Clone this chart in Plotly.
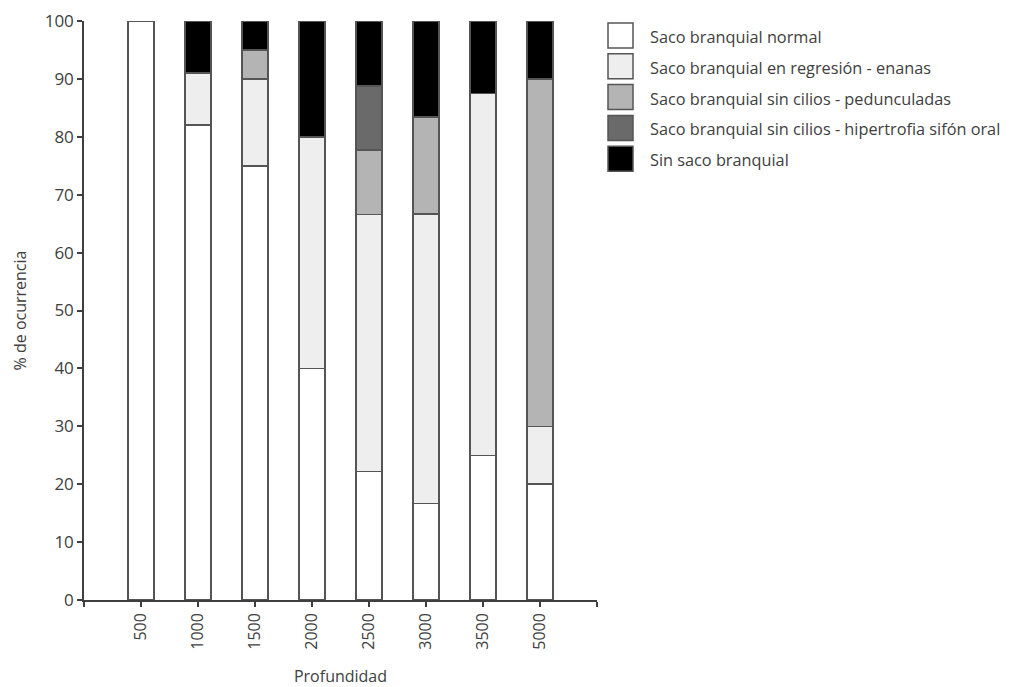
import plotly.graph_objects as go

# Depth classes (m)
depths = ["500", "1000", "1500", "2000", "2500", "3000", "3500", "5000"]

# Percentage of occurrence of each branchial-sac condition per depth
normal = [100, 82, 75, 40, 22.2, 16.7, 25, 20]
regresion = [0, 9, 15, 40, 44.4, 50, 62.5, 10]
pedunculadas = [0, 0, 5, 0, 11.1, 16.7, 0, 60]
hipertrofia = [0, 0, 0, 0, 11.1, 0, 0, 0]
sin_saco = [0, 9, 5, 20, 11.2, 16.6, 12.5, 10]

series_names = [
    "Saco branquial normal",
    "Saco branquial en regresión - enanas",
    "Saco branquial sin cilios - pedunculadas",
    "Saco branquial sin cilios - hipertrofia sifón oral",
    "Sin saco branquial",
]
series_values = [normal, regresion, pedunculadas, hipertrofia, sin_saco]
series_colors = ["#ffffff", "#eeeeee", "#b4b4b4", "#6a6a6a", "#000000"]

y_ticks = list(range(0, 101, 10))

edge = "#555555"
axis_col = "#3f3f3f"
text_col = "#404040"
font_family = "'Open Sans', 'Noto Sans', sans-serif"

xpos = list(range(len(depths)))

fig = go.Figure()
for name, vals, col in zip(series_names, series_values, series_colors):
    fig.add_trace(go.Bar(
        x=xpos, y=vals, name=name, width=0.46,
        marker=dict(color=col, line=dict(color=edge, width=1.5)),
        showlegend=False,
    ))

# Legend drawn as boxes + labels beside the plot area
L, R, T, B = 84, 597, 21, 600
pw, ph = R - L, B - T
def px(x):
    return (x - L) / pw
def py(y):
    return (B - y) / ph

shapes = []
annotations = []
for i, (name, col) in enumerate(zip(series_names, series_colors)):
    top = 23 + i * 30.8
    shapes.append(dict(
        type="rect", xref="paper", yref="paper",
        x0=px(608), x1=px(633), y0=py(top), y1=py(top + 25),
        fillcolor=col, line=dict(color=edge, width=1.5),
    ))
    annotations.append(dict(
        xref="paper", yref="paper", x=px(648), y=py(top + 14),
        text=name, showarrow=False, xanchor="left", yanchor="middle",
        font=dict(family=font_family, size=16.3, color=text_col),
    ))

fig.update_layout(
    barmode="stack",
    width=1014, height=687,
    margin=dict(l=L, r=1014 - R, t=T, b=687 - B),
    paper_bgcolor="white", plot_bgcolor="white",
    font=dict(family=font_family, size=16, color=text_col),
    shapes=shapes, annotations=annotations,
    xaxis=dict(
        range=[-1, len(depths)],
        tickmode="array",
        tickvals=[-1] + xpos + [len(depths)],
        ticktext=[""] + depths + [""],
        tickangle=-90,
        ticks="outside", ticklen=5, tickwidth=1.5, tickcolor=axis_col,
        showline=True, linecolor=axis_col, linewidth=1.5,
        showgrid=False, zeroline=False, automargin=False,
        tickfont=dict(size=16),
        title=dict(text="Profundidad", standoff=22,
                   font=dict(family=font_family, size=16, color=text_col)),
    ),
    yaxis=dict(
        range=[0, 100],
        tickmode="array", tickvals=y_ticks,
        ticks="outside", ticklen=5, tickwidth=1.5, tickcolor=axis_col,
        showline=True, linecolor=axis_col, linewidth=1.5,
        showgrid=False, zeroline=False, automargin=False,
        tickfont=dict(size=17),
        title=dict(text="% de ocurrencia", standoff=14,
                   font=dict(family=font_family, size=16, color=text_col)),
    ),
)

fig.write_html("out.html")
